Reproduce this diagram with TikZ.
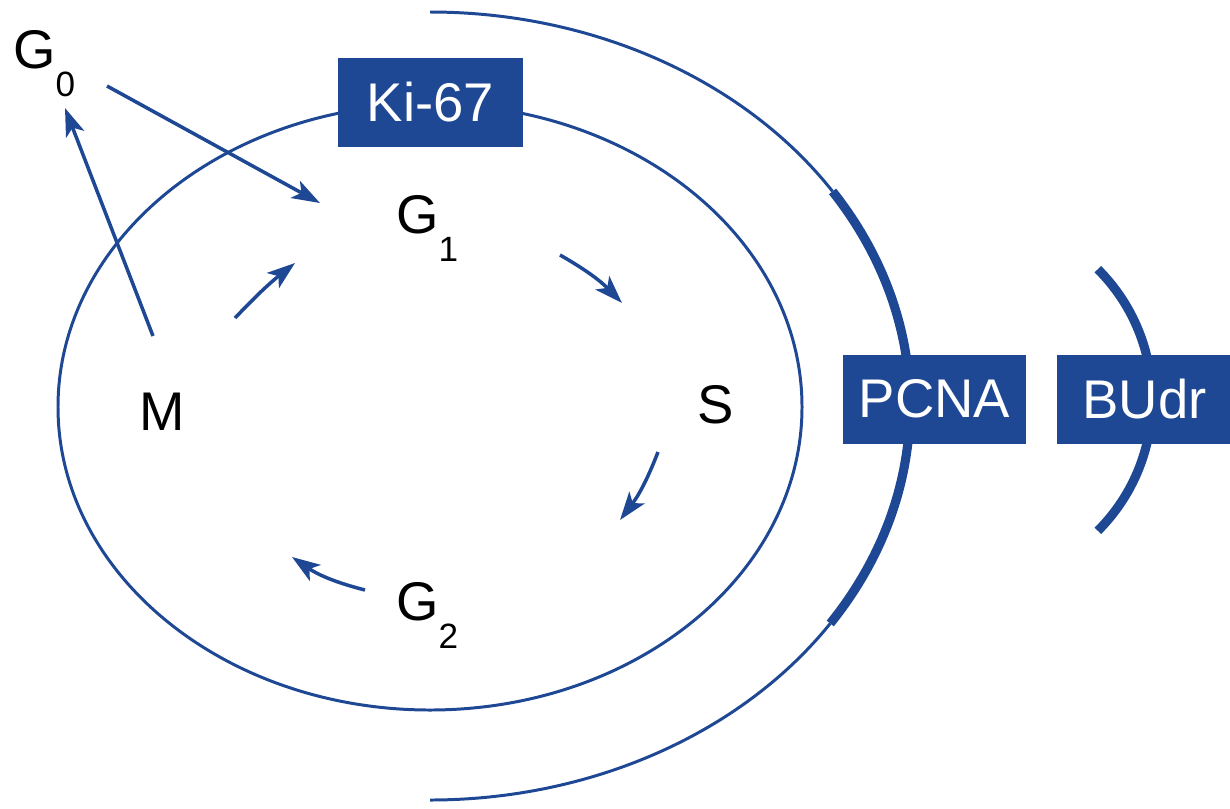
\documentclass[tikz,border=0pt]{standalone}
\usepackage{fontspec}
\setmainfont{Liberation Sans}
\usepackage{xcolor}
\usetikzlibrary{arrows.meta,positioning}
\definecolor{cellblue}{RGB}{30,72,148}
\newcommand{\phasesub}[1]{\raisebox{-0.53em}{\fontsize{10}{12}\selectfont #1}}

\begin{document}
\begin{tikzpicture}[
		phase/.style={anchor=base west, inner sep=0pt, text=black},
		markerbox/.style={fill=cellblue, text=white, inner sep=0pt, minimum height=0.89cm},
		flow/.style={-{Stealth[length=8pt,width=5.5pt,inset=2pt]}, line width=1pt, cellblue},
		thinrim/.style={line width=0.85pt, cellblue},
		thickrim/.style={line width=2.6pt, cellblue}]
		\tikzstyle{every node}=[font=\fontsize{15.5}{18}\selectfont]
		\useasboundingbox (0,0) rectangle (12.3,-8.08);
		\coordinate (cellc) at (4.30,-4.07);
		\coordinate (rimc) at (4.30,-4.06);
		\coordinate (budrc) at (9.67,-4.00);
		% cycle and marker arcs
		\draw [thinrim](cellc) ellipse [x radius=3.72, y radius=3.03];
		\draw [thinrim](rimc) ++(90:4.8 and 3.94) arc [start angle=90, end angle=33, x radius=4.8, y radius=3.94];
		\draw [thickrim](rimc) ++(33:4.8 and 3.94) arc [start angle=33, end angle=-33.5, x radius=4.8, y radius=3.94];
		\draw [thinrim](rimc) ++(-33.5:4.8 and 3.94) arc [start angle=-33.5, end angle=-90, x radius=4.8, y radius=3.94];
		\draw [thickrim](budrc) ++(45:1.85) arc [start angle=45, end angle=-45, radius=1.85];
		% markers
		\node [markerbox, minimum width=1.85cm] (ki67) at (4.305,-1.025) {Ki-67};
		\node [markerbox, minimum width=1.83cm] (pcna) at (9.345,-3.99) {PCNA};
		\node [markerbox, minimum width=1.74cm, right=0.30cm of pcna] (budr) {BUdr};
		% phases
		\node [phase] (g0) at (0.125,-0.68) {G\phasesub{0}};
		\node [phase] (g1) at (3.955,-2.33) {G\phasesub{1}};
		\node [phase] (g2) at (3.955,-6.20) {G\phasesub{2}};
		\node [phase] (m) at (1.39,-4.30) {M};
		\node [phase] (s) at (6.97,-4.23) {S};
		% arrow ends
		\coordinate (g0out) at (1.07,-0.86);
		\coordinate (g1in) at (3.20,-2.03);
		\coordinate (mup) at (1.53,-3.36);
		\coordinate (g0in) at (0.65,-1.08);
		\coordinate (mout) at (2.35,-3.18);
		\coordinate (g1entry) at (2.95,-2.63);
		\coordinate (g1out) at (5.60,-2.55);
		\coordinate (sentry) at (6.22,-3.03);
		\coordinate (sexit) at (6.58,-4.52);
		\coordinate (g2entry) at (6.20,-5.20);
		\coordinate (g2exit) at (3.65,-5.90);
		\coordinate (mentry) at (2.92,-5.57);
		\draw [flow](g0out) -- (g1in);
		\draw [flow](mup) -- (g0in);
		\draw [flow](mout) to[bend left=4] (g1entry);
		\draw [flow](g1out) to[bend left=8] (sentry);
		\draw [flow](sexit) to[bend left=8] (g2entry);
		\draw [flow](g2exit) to[bend left=10] (mentry);
	\end{tikzpicture}
\end{document}
